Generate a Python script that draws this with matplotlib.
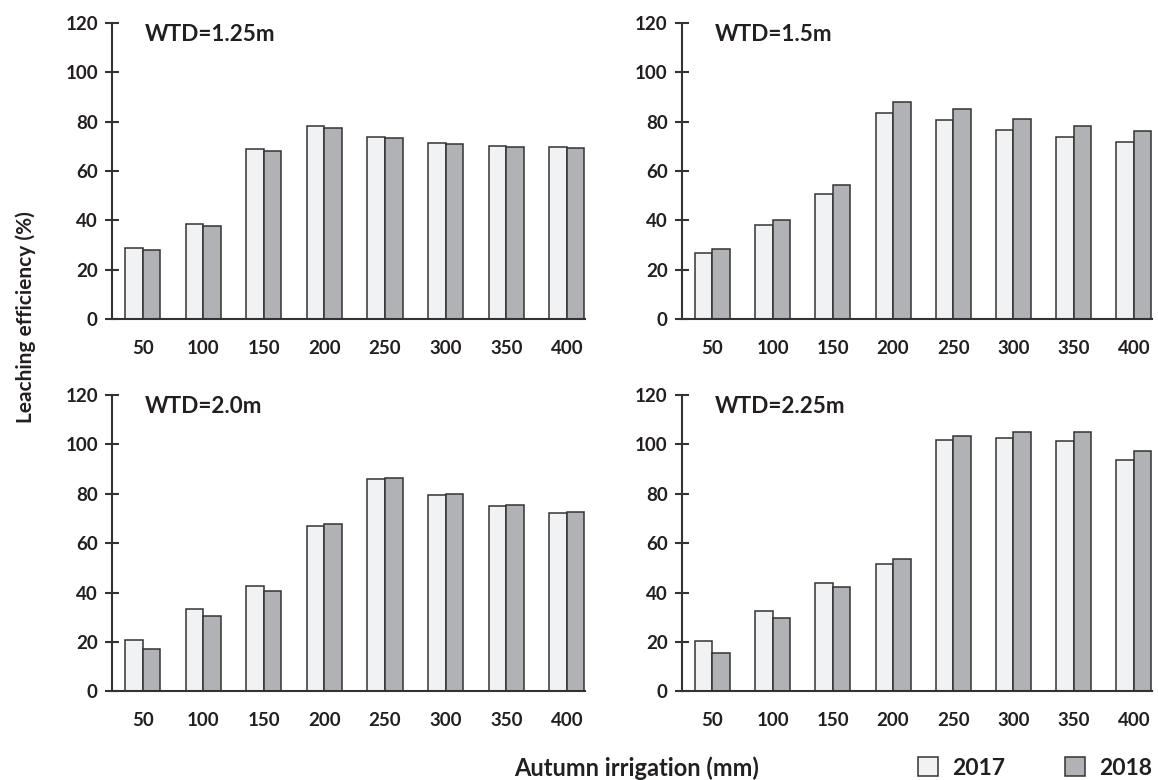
import matplotlib
matplotlib.use("Agg")
import matplotlib.pyplot as plt
import numpy as np

plt.rcParams['font.family'] = ['Lato', 'DejaVu Sans']
plt.rcParams['font.weight'] = 'bold'

irrigation = ['50', '100', '150', '200', '250', '300', '350', '400']
panel_titles = ['WTD=1.25m', 'WTD=1.5m', 'WTD=2.0m', 'WTD=2.25m']
years = ['2017', '2018']

wtd125_2017 = [28.6, 38.6, 69.0, 78.1, 73.9, 71.3, 70.0, 69.7]
wtd125_2018 = [27.9, 37.9, 68.3, 77.4, 73.2, 70.9, 69.7, 69.4]
wtd15_2017 = [26.7, 38.0, 50.6, 83.5, 80.5, 76.6, 73.7, 71.9]
wtd15_2018 = [28.3, 40.2, 54.5, 87.8, 85.0, 80.9, 78.2, 76.3]
wtd20_2017 = [20.9, 33.2, 42.6, 66.9, 86.0, 79.4, 75.1, 72.3]
wtd20_2018 = [17.0, 30.3, 40.6, 67.8, 86.4, 79.7, 75.4, 72.5]
wtd225_2017 = [20.5, 32.5, 44.0, 51.4, 101.9, 102.4, 101.3, 93.6]
wtd225_2018 = [15.6, 29.7, 42.1, 53.5, 103.4, 104.9, 105.1, 97.3]

series = [(wtd125_2017, wtd125_2018), (wtd15_2017, wtd15_2018),
          (wtd20_2017, wtd20_2018), (wtd225_2017, wtd225_2018)]

color_2017 = '#f1f2f4'
color_2018 = '#b1b2b6'
edge = '#333333'
text_col = '#231f20'

fig = plt.figure(figsize=(11.58, 7.8), dpi=100)

# axes boxes (left, bottom, width, height) in figure fractions
boxes = [
    [0.0965, 0.591, 0.4087, 0.3795],
    [0.5887, 0.591, 0.4061, 0.3795],
    [0.0965, 0.1137, 0.4087, 0.380],
    [0.5887, 0.1137, 0.4061, 0.380],
]

x = np.arange(len(irrigation))
w = 0.29
handles = None
for box, title, (s17, s18) in zip(boxes, panel_titles, series):
    ax = fig.add_axes(box)
    b1 = ax.bar(x - w / 2, s17, w, color=color_2017, edgecolor=edge, linewidth=1.1, label=years[0])
    b2 = ax.bar(x + w / 2, s18, w, color=color_2018, edgecolor=edge, linewidth=1.1, label=years[1])
    handles = [b1, b2]
    ax.set_ylim(0, 120)
    ax.set_xlim(-0.51, 7.3)
    ax.set_yticks(np.arange(0, 121, 20))
    ax.set_xticks(x)
    ax.set_xticklabels(irrigation)
    for sp in ['top', 'right']:
        ax.spines[sp].set_visible(False)
    for sp in ['left', 'bottom']:
        ax.spines[sp].set_linewidth(1.5)
        ax.spines[sp].set_color(edge)
    ax.tick_params(axis='y', direction='inout', length=10, width=1.5, color=edge,
                   labelsize=13.5, labelcolor=text_col, pad=5)
    ax.tick_params(axis='x', length=0, labelsize=13.5, labelcolor=text_col, pad=15)
    ax.text(0.07, 0.96, title, transform=ax.transAxes, fontsize=16.2,
            fontweight='bold', color=text_col, va='center', ha='left')

fig.text(0.022, 1 - 317 / 780, 'Leaching efficiency (%)', rotation=90, fontsize=15,
         fontweight='bold', color=text_col, va='center', ha='center')
fig.text(637 / 1158, 1 - 768 / 780, 'Autumn irrigation (mm)', fontsize=17,
         fontweight='bold', color=text_col, va='center', ha='center')

fig.legend(handles, years, loc='center right', bbox_to_anchor=(0.995, 1 - 768 / 780), ncol=2,
           frameon=False, fontsize=16.5, handlelength=0.87, handleheight=0.87,
           handletextpad=0.62, columnspacing=2.6, borderaxespad=0, borderpad=0,
           labelcolor=text_col)

fig.savefig('out.png', dpi=100)
